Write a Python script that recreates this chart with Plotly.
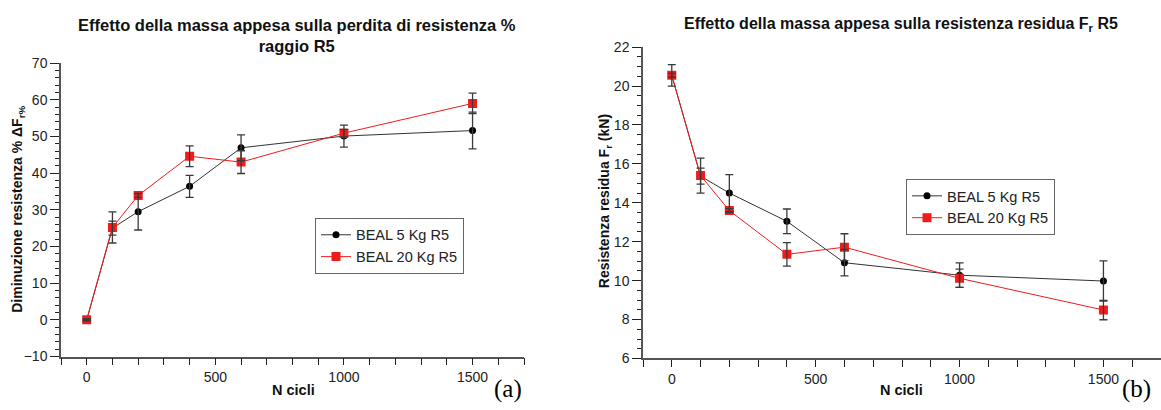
import plotly.graph_objects as go

# ---- data ----
cycles = [0, 100, 200, 400, 600, 1000, 1500]

loss_5kg = [0.0, 25.0, 29.5, 36.4, 46.9, 50.1, 51.6]
loss_5kg_err = [0.2, 1.9, 5.0, 3.0, 3.5, 3.0, 5.0]
loss_20kg = [0.0, 25.2, 33.9, 44.6, 43.0, 50.9, 59.0]
loss_20kg_err = [0.3, 4.25, 0.5, 2.85, 3.1, 1.0, 2.8]

res_5kg = [20.55, 15.37, 14.5, 13.05, 10.92, 10.28, 9.98]
res_5kg_err = [0.55, 0.41, 0.95, 0.63, 0.68, 0.63, 1.03]
res_20kg = [20.55, 15.4, 13.6, 11.35, 11.72, 10.12, 8.49]
res_20kg_err = [0.1, 0.9, 0.1, 0.6, 0.69, 0.47, 0.5]

name_5 = "BEAL 5 Kg R5"
name_20 = "BEAL 20 Kg R5"

title_a = "<b>Effetto della massa appesa sulla perdita di resistenza %<br>raggio R5</b>"
title_b = "<b>Effetto della massa appesa sulla resistenza residua F<sub>r</sub> R5</b>"
ytitle_a = "<b>Diminuzione resistenza % ΔF<sub>r%</sub></b>"
ytitle_b = "<b>Resistenza residua F<sub>r</sub> (kN)</b>"
xtitle = "<b>N cicli</b>"

W, H = 1161, 410
FONT = "Liberation Sans, Arial, Helvetica, sans-serif"
BLACK_LINE = "#333333"
RED = "#f01c1c"
ERR = "#3a3a3a"

fig = go.Figure()


def add_series(x, y, err, xa, ya, legend, show_legend):
    # lines + markers
    fig.add_trace(go.Scatter(
        x=x, y=y[0], mode="lines+markers", name=name_5,
        line=dict(color=BLACK_LINE, width=1),
        marker=dict(symbol="circle", size=7, color="#000000"),
        xaxis=xa, yaxis=ya, legend=legend, showlegend=show_legend))
    fig.add_trace(go.Scatter(
        x=x, y=y[1], mode="lines+markers", name=name_20,
        line=dict(color=RED, width=1),
        marker=dict(symbol="square", size=9, color=RED),
        xaxis=xa, yaxis=ya, legend=legend, showlegend=show_legend))
    # error bars on top
    for yy, ee in zip(y, err):
        fig.add_trace(go.Scatter(
            x=x, y=yy, mode="markers",
            marker=dict(size=1, color="rgba(0,0,0,0)"),
            error_y=dict(type="data", array=ee, visible=True,
                         color=ERR, thickness=1.3, width=4),
            xaxis=xa, yaxis=ya, showlegend=False, hoverinfo="skip"))


add_series(cycles, [loss_5kg, loss_20kg], [loss_5kg_err, loss_20kg_err],
           "x", "y", "legend", True)
add_series(cycles, [res_5kg, res_20kg], [res_5kg_err, res_20kg_err],
           "x2", "y2", "legend2", True)

axis_common = dict(
    showline=True, linecolor="#555555", linewidth=1.5,
    ticks="outside", tickcolor="#222222", tickwidth=1,
    showgrid=False, zeroline=False,
    tickfont=dict(family=FONT, size=14, color="#222222"),
)

xa_common = dict(axis_common, range=[-100, 1700], tickmode="linear",
                 tick0=0, dtick=500, ticklen=7,
                 minor=dict(dtick=100, ticklen=7, tickcolor="#222222",
                            ticks="outside", showgrid=False))

leg_common = dict(xanchor="left", yanchor="middle",
                  bordercolor="#666666", borderwidth=1, bgcolor="white",
                  font=dict(family=FONT, size=14.5, color="#222222"),
                  tracegroupgap=0, itemwidth=30)

fig.update_layout(
    width=W, height=H,
    margin=dict(l=0, r=0, t=0, b=0),
    paper_bgcolor="white", plot_bgcolor="white",
    font=dict(family=FONT, color="#222222"),
    xaxis=dict(xa_common, domain=[61 / W, 524 / W], anchor="y"),
    yaxis=dict(axis_common, domain=[1 - 362.7 / H, 1 - 57.3 / H], anchor="x",
               range=[-10, 70], tickmode="linear", tick0=0, dtick=10, ticklen=9,
               minor=dict(dtick=2, ticklen=4, tickcolor="#222222",
                          ticks="outside", showgrid=False)),
    xaxis2=dict(xa_common, domain=[643 / W, 1.0], anchor="y2"),
    yaxis2=dict(axis_common, domain=[1 - 364.7 / H, 1 - 40.7 / H], anchor="x2",
                range=[6, 22], tickmode="linear", tick0=6, dtick=2, ticklen=9,
                minor=dict(dtick=0.5, ticklen=4, tickcolor="#222222",
                           ticks="outside", showgrid=False)),
    legend=dict(leg_common, x=315 / W, y=1 - 247.5 / H),
    legend2=dict(leg_common, x=906 / W, y=1 - 207 / H),
    showlegend=True,
)

TF = dict(family=FONT, color="#111111")
SERIF = dict(family="Liberation Serif, Times New Roman, serif", size=25, color="#000000")

ann = []
ann.append(dict(text=title_a, x=297 / W, y=1 - 29 / H, font=dict(TF, size=16.5)))
ann.append(dict(text=title_b, x=901 / W, y=1 - 17 / H, font=dict(TF, size=16)))
ann.append(dict(text=ytitle_a, x=18 / W, y=1 - 210 / H, textangle=-90,
                font=dict(TF, size=14)))
ann.append(dict(text=ytitle_b, x=605 / W, y=1 - 201 / H, textangle=-90,
                font=dict(TF, size=14)))
ann.append(dict(text=xtitle, x=293 / W, y=1 - 397 / H, font=dict(TF, size=14.5)))
ann.append(dict(text=xtitle, x=901 / W, y=1 - 397 / H, font=dict(TF, size=14.5)))
ann.append(dict(text="(a)", x=508 / W, y=1 - 396 / H, font=SERIF))
ann.append(dict(text="(b)", x=1136 / W, y=1 - 396 / H, font=SERIF))
for a in ann:
    a.update(xref="paper", yref="paper", showarrow=False,
             xanchor="center", yanchor="middle")
fig.update_layout(annotations=ann)

fig.write_html("out.html")
